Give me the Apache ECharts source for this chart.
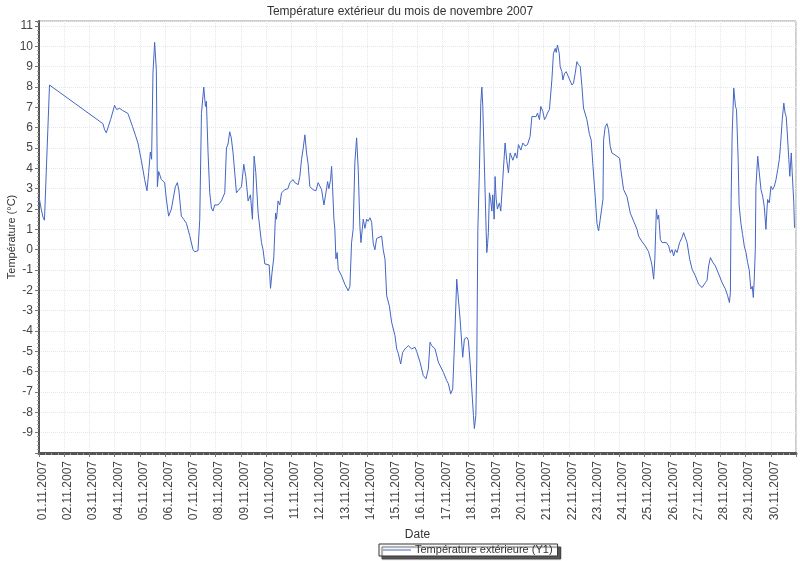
<!DOCTYPE html>
<html>
<head>
<meta charset="utf-8">
<script src="https://cdn.jsdelivr.net/npm/echarts@6/dist/echarts.min.js"></script>
<style>
html,body{margin:0;padding:0;background:#fff;}
#chart{width:800px;height:561px;}
</style>
</head>
<body>
<div id="chart"></div>
<script>
// Hours since 01.11.2007 00:00
var hours = [0,2.1,3.8,5.2,6.7,8.4,10.0,
60.8,62.4,64.0,65.2,68.1,71.9,73.8,76.7,79.5,81.4,84.6,89.0,91.9,94.1,97.3,100.5,102.7,104.3,105.9,107.1,108.4,110.0,111.6,112.6,113.8,116.4,119.5,121.1,123.3,125.9,127.4,129.7,131.6,133.1,135.4,137.6,140.2,143.3,146.5,148.1,151.2,
152.9,154.5,156.7,158.3,159.2,160.8,162.4,164.0,165.5,167.1,170.3,173.5,176.7,178.3,179.8,181.4,182.9,184.6,187.8,189.3,192.6,194.8,196.7,198.9,201.1,203.0,204.6,206.2,208.4,211.6,213.1,214.8,218.9,220.2,221.7,223.3,225.0,225.9,227.4,229.0,230.7,233.8,236.7,238.6,241.7,243.3,246.5,248.1,249.7,251.2,252.9,254.5,256.0,257.6,260.8,263.4,265.5,267.1,268.8,271.0,272.9,274.5,275.7,277.3,278.3,279.2,280.5,281.4,282.4,283.6,284.6,287.8,290.9,294.1,295.7,297.3,298.8,
300.4,302.1,303.6,305.2,306.2,308.4,310.0,311.6,313.1,314.8,316.4,317.9,319.5,321.1,322.7,325.9,327.4,329.1,330.7,333.2,335.4,338.6,340.2,341.7,344.0,345.9,348.1,351.2,354.5,357.6,359.2,362.4,365.5,368.1,370.3,371.9,373.5,375.1,376.7,379.8,381.4,384.6,387.8,389.4,391.6,393.5,395.7,397.3,398.9,400.5,403.0,404.6,406.9,408.4,410.0,411.6,413.2,414.1,415.5,416.4,417.4,
418.9,420.2,421.2,422.1,423.3,425.0,425.9,426.7,427.4,428.4,429.5,430.7,431.6,432.9,433.8,434.8,436.0,437.9,439.2,441.1,443.3,444.9,446.5,448.1,450.7,452.9,454.5,456.0,458.3,460.2,462.4,464.6,467.1,468.8,470.3,472.9,474.1,476.0,477.3,479.2,480.8,482.4,483.6,485.5,487.8,489.3,491.0,491.9,493.1,494.8,495.7,497.3,498.3,499.8,501.4,503.6,505.2,506.9,508.4,510.0,511.6,513.1,514.8,516.4,517.9,521.1,523.6,525.2,526.9,529.0,530.7,532.2,533.8,535.5,536.4,537.0,538.6,540.2,541.7,543.3,544.9,546.5,549.7,552.2,553.5,556.0,559.3,562.4,565.6,568.8,570.3,573.5,576.7,579.8,582.1,583.1,584.6,585.7,587.2,588.4,589.4,591.0,592.6,594.1,596.7,598.9,600.5,602.1,603.6,605.2,606.9,609.3,611.6,613.1,614.8,616.4,618.9,621.2,624.3,627.4,630.7,632.2,633.8,635.4,636.9,638.6,641.1,643.3,646.5,649.7,652.9,655.0,656.7,657.6,658.3,659.3,660.8,662.4,663.4,665.0,665.9,667.6,669.2,670.8,672.4,674.0,675.5,677.1,678.4,679.4,680.3,681.3,681.9,683.6,685.1,686.7,688.3,689.8,691.4,692.4,693.0,694.6,696.2,697.8,699.4,701.0,702.6,704.1,705.2,706.9,708.4,709.6,710.7,711.7,713.2,714.1,715.5,716.4,717.9,718.6];

// Temperature (°C)
var temps = [2.6,2.0,1.6,1.45,1.5,5.9,8.1,
6.2,5.9,5.75,5.8,6.4,7.1,6.9,6.95,6.85,6.9,6.7,6.05,5.6,5.25,4.4,3.45,2.9,3.8,4.8,4.45,8.7,10.2,8.85,3.1,3.85,3.45,3.3,2.5,1.65,2.0,2.0,3.1,3.3,2.9,1.65,1.5,1.3,0.7,0.0,-0.1,-0.05,
1.5,6.7,8.0,7.05,7.3,4.75,2.8,2.05,1.9,2.2,2.2,2.4,2.8,5.0,5.2,5.8,5.5,4.75,2.8,2.9,3.1,4.2,3.6,2.4,2.7,1.5,4.6,3.8,1.8,0.35,0.0,-0.7,-0.75,-1.9,-1.1,-0.4,1.8,1.5,2.4,2.2,2.8,2.95,3.0,3.3,3.45,3.3,3.2,3.6,4.45,4.95,5.65,4.75,4.2,3.1,2.95,2.9,3.3,3.35,2.95,2.2,2.8,3.35,3.0,3.45,4.1,3.1,1.5,1.0,-0.45,-0.14,-0.96,-1.29,-1.7,-2.02,-1.8,0.35,1.0,
4.27,5.5,4.0,1.16,0.35,1.5,1.05,1.5,1.4,1.57,1.35,0.3,0.0,0.55,0.6,0.67,0.0,-0.47,-2.27,-2.76,-3.57,-4.23,-4.88,-5.1,-5.62,-5.05,-4.88,-4.72,-4.88,-4.8,-5.0,-5.53,-6.19,-6.35,-5.86,-4.55,-4.72,-4.63,-4.88,-5.53,-5.45,-6.03,-6.44,-6.6,-7.09,-6.85,-3.9,-1.45,-1.45,-3.41,-5.29,-4.39,-4.31,-4.47,-5.53,-6.84,-8.15,-8.8,-8.15,-5.53,1.0,
3.94,7.2,8.0,7.05,4.76,1.49,-0.14,0.3,0.84,2.8,2.5,1.9,2.7,1.5,3.6,2.5,2.0,2.3,1.9,3.45,5.25,4.4,3.78,4.76,4.4,4.76,4.5,5.17,4.9,5.25,5.1,5.17,5.57,6.55,6.6,6.55,6.72,6.4,7.05,6.8,6.4,6.55,6.72,6.9,8.35,9.66,9.9,9.7,10.07,9.66,9.0,8.76,8.35,8.66,8.76,8.5,8.3,8.1,8.2,8.68,9.25,9.1,9.0,8.03,6.97,6.4,5.66,5.4,4.1,2.63,1.3,0.92,1.49,1.4,2.47,5.41,6.06,6.2,5.9,5.08,4.76,4.67,4.6,4.5,3.9,2.96,2.6,1.8,1.4,1.0,0.67,0.4,0.18,-0.1,-0.55,-0.8,-1.45,-0.5,1.98,1.5,1.7,0.5,0.35,0.43,0.35,0.18,-0.14,0.0,-0.31,0.0,-0.14,0.35,0.6,0.84,0.9,0.35,-0.47,-0.96,-1.29,-1.7,-1.86,-1.9,-1.62,-1.5,-0.8,-0.39,-0.64,-0.8,-1.2,-1.62,-1.94,-2.27,-2.6,-2.1,2.47,5.74,7.95,7.05,6.9,4.4,2.2,1.3,0.75,0.18,-0.14,-0.63,-1.0,-1.94,-1.8,-2.35,-1.45,0.0,3.12,4.6,3.78,2.96,2.63,2.14,1.0,2.0,2.47,2.3,3.12,2.96,3.12,3.45,3.94,4.43,5.08,6.39,7.21,6.72,6.55,5.74,4.43,3.61,4.76,3.78,2.31,1.08];

var titleText = 'Température extérieur du mois de novembre 2007';
var seriesName = 'Température extérieure (Y1)';
var yAxisName = 'Température (°C)';
var xAxisName = 'Date';

var data = hours.map(function (h, i) { return [h, temps[i]]; });

function pad(n) { return (n < 10 ? '0' : '') + n; }

var chart = echarts.init(document.getElementById('chart'), null, {renderer: 'canvas'});
var font = 'Liberation Sans, Arial, sans-serif';
chart.setOption({
  animation: false,
  backgroundColor: '#fff',
  textStyle: {fontFamily: font},
  title: {
    text: titleText,
    left: 'center',
    top: 1,
    textStyle: {fontSize: 12, fontWeight: 'normal', color: '#333', fontFamily: font}
  },
  grid: {
    left: 39, right: 4, top: 21, bottom: 108,
    containLabel: false,
    outerBoundsMode: 'none',
    show: true, borderColor: '#9a9a9a', borderWidth: 1, backgroundColor: '#fff'
  },
  legend: {
    left: 379, top: 544,
    padding: [0, 5, 0, 4],
    itemWidth: 28, itemHeight: 1, itemGap: 4,
    icon: 'rect',
    backgroundColor: '#fff',
    borderColor: '#333', borderWidth: 1,
    shadowColor: 'rgba(60,60,60,0.85)', shadowBlur: 1, shadowOffsetX: 3, shadowOffsetY: 3,
    textStyle: {fontSize: 11, lineHeight: 12, color: '#333', fontFamily: font, padding: [0, 0, 0, -1]},
    data: [seriesName]
  },
  xAxis: {
    type: 'value',
    min: 0, max: 720, interval: 24,
    name: xAxisName,
    nameLocation: 'middle',
    nameGap: 76,
    nameMoveOverlap: false,
    nameTextStyle: {fontSize: 12, color: '#333'},
    axisLine: {show: true, onZero: false, lineStyle: {color: '#555', width: 3}},
    axisTick: {show: true, length: 4, lineStyle: {color: '#777'}},
    minorTick: {show: true, splitNumber: 4, length: 2, lineStyle: {color: '#999'}},
    splitLine: {show: true, lineStyle: {color: '#e3e8f0', type: 'dotted', width: 1}},
    axisLabel: {
      rotate: 90, fontSize: 12, color: '#444', margin: 8,
      formatter: function (v) {
        if (v >= 720) return '';
        return '{d|' + pad(Math.round(v / 24) + 1) + '.11.2007}';
      },
      rich: {
        d: {fontSize: 12, color: '#444', fontFamily: font, padding: [7, 0, 0, 0]}
      }
    }
  },
  yAxis: {
    type: 'value',
    min: -10, max: 11.25, interval: 1,
    name: yAxisName,
    nameLocation: 'middle',
    nameGap: 22,
    nameMoveOverlap: false,
    nameTextStyle: {fontSize: 11, color: '#333'},
    axisLine: {show: true, onZero: false, lineStyle: {color: '#555', width: 2}},
    axisTick: {show: true, length: 4, lineStyle: {color: '#777'}},
    minorTick: {show: true, splitNumber: 5, length: 2, lineStyle: {color: '#999'}},
    splitLine: {show: true, lineStyle: {color: '#e3e8f0', type: 'dotted', width: 1}},
    axisLabel: {
      fontSize: 12, color: '#444', margin: 6,
      formatter: function (v) {
        if (Math.abs(v - Math.round(v)) > 1e-6 || v <= -10) return '';
        return String(Math.round(v));
      }
    }
  },
  series: [{
    name: seriesName,
    type: 'line',
    data: data,
    symbol: 'none',
    lineStyle: {color: '#4466c4', width: 1},
    itemStyle: {color: '#4466c4'}
  }]
});
</script>
</body>
</html>
